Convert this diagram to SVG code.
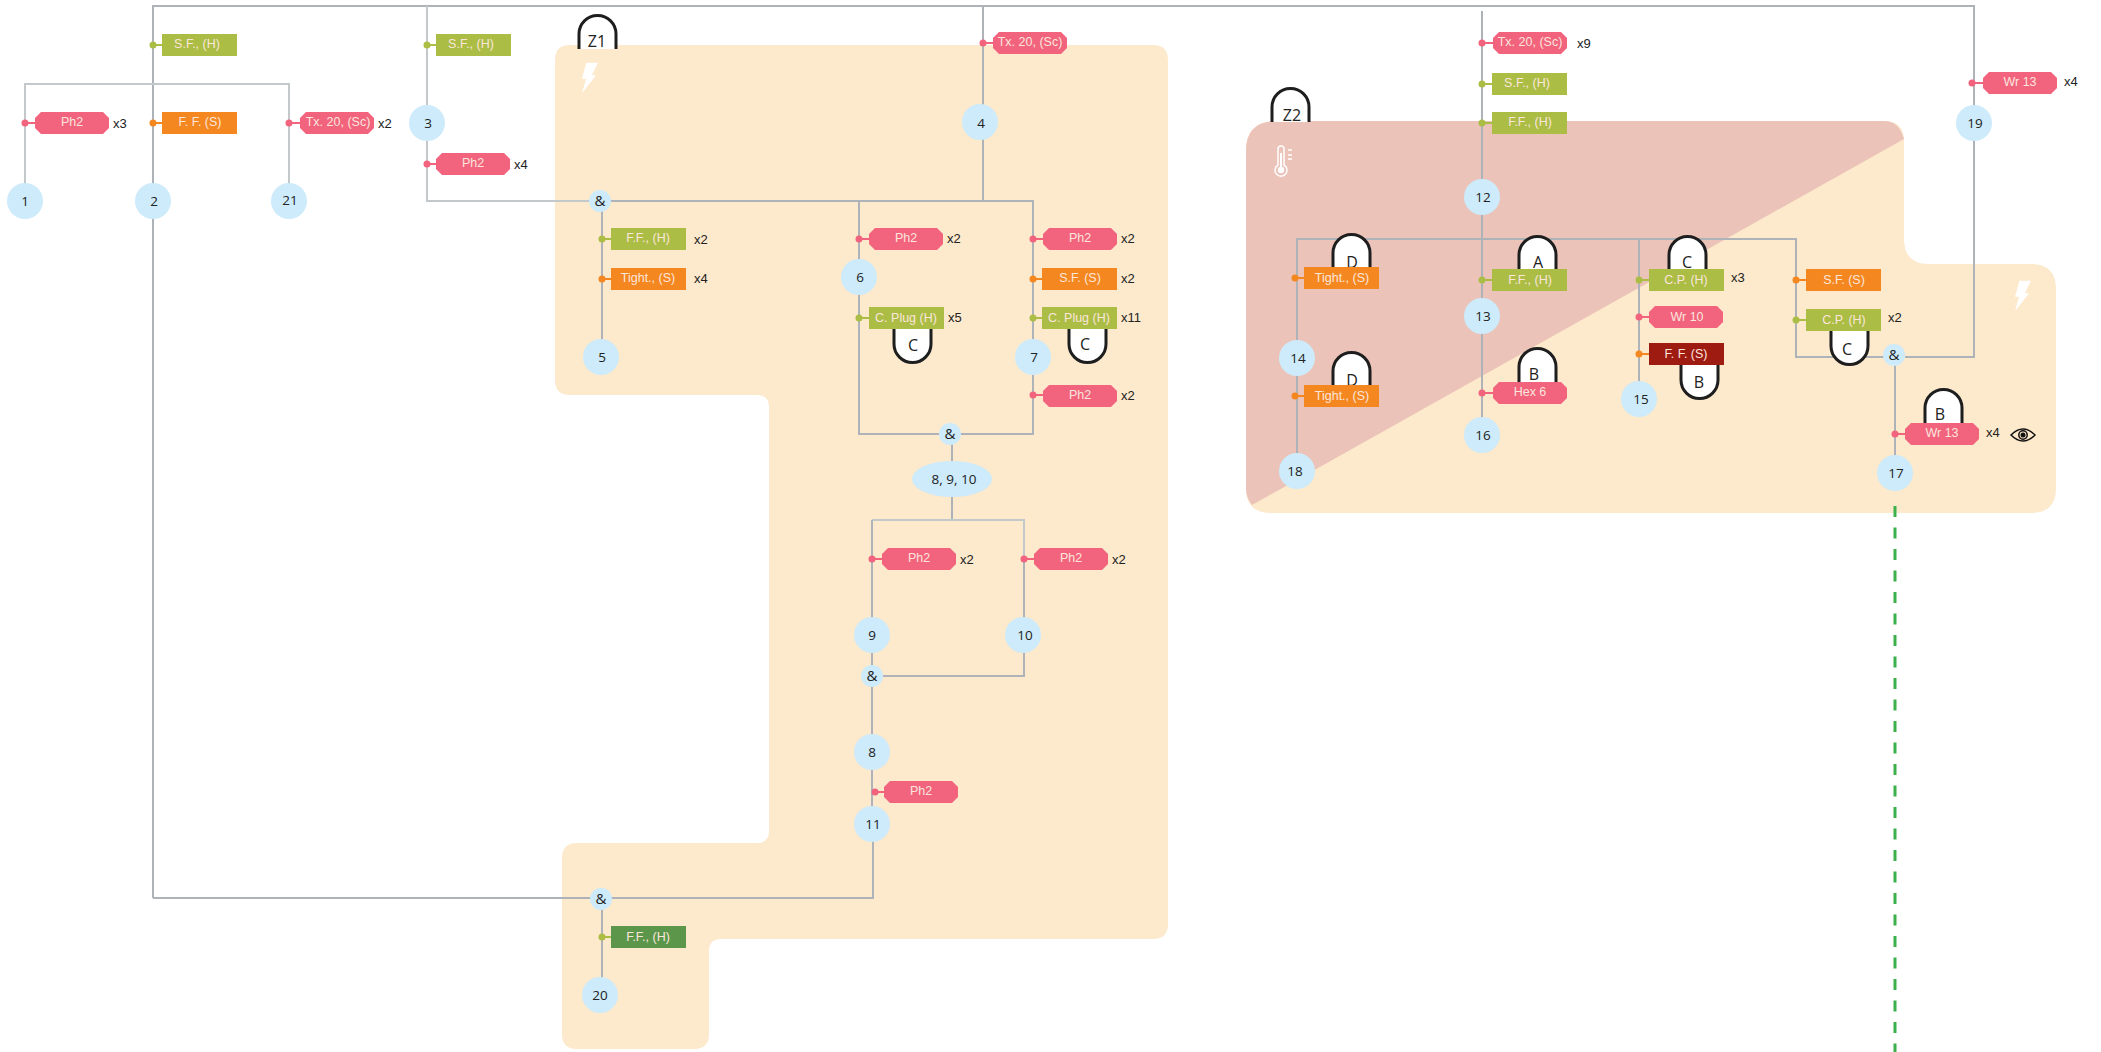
<svg xmlns="http://www.w3.org/2000/svg" width="2101" height="1052" viewBox="0 0 2101 1052">
<style>
.ln{fill:none;stroke:#adb3b8;stroke-width:2}
.lt{fill:none;stroke:#c3c8cb;stroke-width:2}
.dash{fill:none;stroke:#3cb04a;stroke-width:3;stroke-dasharray:11 10.5}
.arch{fill:#fff;stroke:#1e1e1e;stroke-width:3}
.n{fill:#cdebfa}
.nt{font:13.5px "Open Sans",sans-serif;fill:#222;text-anchor:middle}
.am{font:15px "Open Sans",sans-serif;fill:#222;text-anchor:middle}
.at{font:16px "Open Sans",sans-serif;fill:#222;text-anchor:middle}
.tl{font:12.5px "Liberation Sans",sans-serif;fill:#fbe6dc;text-anchor:middle}
.ct{font:13px "Liberation Sans",sans-serif;fill:#222}
.pk{fill:#f2637e;stroke:#f2637e}
.gr{fill:#abbd45;stroke:#abbd45}
.or{fill:#f58720;stroke:#f58720}
.s{stroke-width:2;fill:none}
.d{stroke:none}
.rg{fill:#abbd45}.ro{fill:#f58720}.rr{fill:#9e1b12}.rd{fill:#5c964a}
</style>
<defs>
<polygon id="oct" points="6,0 68,0 74,6 74,16 68,22 6,22 0,16 0,6" fill="#f2637e"/>
<rect id="box" width="75" height="22"/>
<path id="au" d="M0 0V-15A18.500 18.500 0 0 1 37 -15V0"/>
<path id="ad" d="M0 0V15A18.500 18.500 0 0 0 37 15V0"/>
<polygon id="bolt" points="2019.300,280.700 2031,280.700 2025,293 2029,293.500 2015,311 2019,297 2015,296.700" fill="#fff"/>
</defs>

<g id="regions">
<path id="zone1" fill="#fde9cc" d="M570 45H1153Q1168 45 1168 60V924Q1168 939 1153 939H721Q709 939 709 951V1034Q709 1049 694 1049H577Q562 1049 562 1034V858Q562 843 577 843H757Q769 843 769 831V407Q769 395 757 395H570Q555 395 555 380V60Q555 45 570 45Z"/>
<path id="zone2" fill="#fde9cc" d="M1276 121H1884Q1904 121 1904 141V239Q1904 264 1929 264H2031Q2056 264 2056 289V488Q2056 513 2031 513H1271Q1246 513 1246 488V151Q1246 121 1276 121Z"/>
<path id="zone2hot" fill="#ebc3b8" d="M1276 121H1884Q1899 121 1904 139L1252 505Q1246 498 1246 488V151Q1246 121 1276 121Z"/>
<use href="#bolt" transform="translate(-1433 -218)"/>
<use href="#bolt"/>
<g id="thermo" fill="none" stroke="#fff" stroke-width="1.500">
<path d="M1278 165V149A3 3 0 0 1 1284 149V165A6 6 0 1 1 1278 165Z"/>
<path d="M1281 153V171" stroke-width="2"/>
<circle cx="1281" cy="170" r="2.500" fill="#fff"/>
<path d="M1288 150H1292M1288 155H1292M1288 159H1292"/>
</g>
</g>

<g id="connectors">
<path class="ln" d="M153 898V6H1974V357H1905"/>
<path class="lt" d="M427 6V201H600"/>
<path class="lt" d="M25 201V84H289V201"/>
<path class="ln" d="M600 201H1033V434H859V201"/>
<path class="ln" d="M983 6V201"/>
<path class="ln" d="M952 434V520"/>
<path class="lt" d="M872 520H1024V559"/>
<path class="ln" d="M1024 559V676H872"/>
<path class="ln" d="M872 520V824"/>
<path class="ln" d="M873 824V898H153"/>
<path class="ln" d="M602 201V357"/>
<path class="ln" d="M602 898V995"/>
<path class="ln" d="M1482 11V435"/>
<path class="ln" d="M1297 471V239H1796V357H1895"/>
<path class="ln" d="M1639 239V399"/>
<path class="ln" d="M1895 355V473"/>
<path class="dash" d="M1895 506V1052"/>
</g>

<g id="arches">
<g id="zZ1"><use class="arch" href="#au" x="579" y="49"/><text class="at" x="597" y="47">Z1</text></g>
<g id="zZ2"><use class="arch" href="#au" x="1272" y="122"/><text class="at" x="1292" y="121">Z2</text></g>
<g id="aD1"><use class="arch" href="#au" x="1333" y="268"/><text class="at" x="1352" y="268">D</text></g>
<g id="aA"><use class="arch" href="#au" x="1519" y="270"/><text class="at" x="1538" y="268">A</text></g>
<g id="aC1"><use class="arch" href="#au" x="1669" y="270"/><text class="at" x="1687" y="268">C</text></g>
<g id="aD2"><use class="arch" href="#au" x="1333" y="386"/><text class="at" x="1352" y="386">D</text></g>
<g id="aB1"><use class="arch" href="#au" x="1519" y="382"/><text class="at" x="1534" y="380">B</text></g>
<g id="aB2"><use class="arch" href="#au" x="1925" y="423"/><text class="at" x="1940" y="420">B</text></g>
<g id="aC2"><use class="arch" href="#ad" x="894" y="329"/><text class="at" x="913" y="351">C</text></g>
<g id="aC3"><use class="arch" href="#ad" x="1069" y="329"/><text class="at" x="1085" y="350">C</text></g>
<g id="aB3"><use class="arch" href="#ad" x="1681" y="365"/><text class="at" x="1699" y="388">B</text></g>
<g id="aC4"><use class="arch" href="#ad" x="1831" y="331"/><text class="at" x="1847" y="355">C</text></g>
</g>

<g id="tags">
<g id="t1"><path class="pk s" d="M25 123H35"/><circle class="pk d" cx="25" cy="123" r="3.500"/><use href="#oct" x="35" y="112"/><text class="tl" x="72" y="126">Ph2</text><text class="ct" x="113" y="128">x3</text></g>
<g id="t2"><path class="or s" d="M153 123H162"/><circle class="or d" cx="153" cy="123" r="3.500"/><use class="ro" href="#box" x="162" y="112"/><text class="tl" x="200" y="126">F. F. (S)</text></g>
<g id="t3"><path class="gr s" d="M153 45H162"/><circle class="gr d" cx="153" cy="45" r="3.500"/><use class="rg" href="#box" x="162" y="34"/><text class="tl" x="197" y="48">S.F., (H)</text></g>
<g id="t4"><path class="pk s" d="M289 123H300"/><circle class="pk d" cx="289" cy="123" r="3.500"/><use href="#oct" x="300" y="112"/><text class="tl" x="338" y="126">Tx. 20, (Sc)</text><text class="ct" x="378" y="128">x2</text></g>
<g id="t5"><path class="gr s" d="M427 45H436"/><circle class="gr d" cx="427" cy="45" r="3.500"/><use class="rg" href="#box" x="436" y="34"/><text class="tl" x="471" y="48">S.F., (H)</text></g>
<g id="t6"><path class="pk s" d="M427 164H436"/><circle class="pk d" cx="427" cy="164" r="3.500"/><use href="#oct" x="436" y="153"/><text class="tl" x="473" y="167">Ph2</text><text class="ct" x="514" y="169">x4</text></g>
<g id="t7"><path class="gr s" d="M602 239H611"/><circle class="gr d" cx="602" cy="239" r="3.500"/><use class="rg" href="#box" x="611" y="228"/><text class="tl" x="648" y="242">F.F., (H)</text><text class="ct" x="694" y="244">x2</text></g>
<g id="t8"><path class="or s" d="M602 279H611"/><circle class="or d" cx="602" cy="279" r="3.500"/><use class="ro" href="#box" x="611" y="268"/><text class="tl" x="648" y="282">Tight., (S)</text><text class="ct" x="694" y="283">x4</text></g>
<g id="t9"><path class="pk s" d="M983 43H993"/><circle class="pk d" cx="983" cy="43" r="3.500"/><use href="#oct" x="993" y="32"/><text class="tl" x="1030" y="46">Tx. 20, (Sc)</text></g>
<g id="t10"><path class="pk s" d="M859 239H869"/><circle class="pk d" cx="859" cy="239" r="3.500"/><use href="#oct" x="869" y="228"/><text class="tl" x="906" y="242">Ph2</text><text class="ct" x="947" y="243">x2</text></g>
<g id="t11"><path class="gr s" d="M859 318H869"/><circle class="gr d" cx="859" cy="318" r="3.500"/><use class="rg" href="#box" x="869" y="307"/><text class="tl" x="906" y="322">C. Plug (H)</text><text class="ct" x="948" y="322">x5</text></g>
<g id="t12"><path class="pk s" d="M1033 239H1043"/><circle class="pk d" cx="1033" cy="239" r="3.500"/><use href="#oct" x="1043" y="228"/><text class="tl" x="1080" y="242">Ph2</text><text class="ct" x="1121" y="243">x2</text></g>
<g id="t13"><path class="or s" d="M1033 279H1042"/><circle class="or d" cx="1033" cy="279" r="3.500"/><use class="ro" href="#box" x="1042" y="268"/><text class="tl" x="1080" y="282">S.F. (S)</text><text class="ct" x="1121" y="283">x2</text></g>
<g id="t14"><path class="gr s" d="M1033 318H1042"/><circle class="gr d" cx="1033" cy="318" r="3.500"/><use class="rg" href="#box" x="1042" y="307"/><text class="tl" x="1079" y="322">C. Plug (H)</text><text class="ct" x="1121" y="322">x11</text></g>
<g id="t15"><path class="pk s" d="M1033 395H1043"/><circle class="pk d" cx="1033" cy="395" r="3.500"/><use href="#oct" x="1043" y="385"/><text class="tl" x="1080" y="399">Ph2</text><text class="ct" x="1121" y="400">x2</text></g>
<g id="t16"><path class="pk s" d="M872 559H882"/><circle class="pk d" cx="872" cy="559" r="3.500"/><use href="#oct" x="882" y="548"/><text class="tl" x="919" y="562">Ph2</text><text class="ct" x="960" y="564">x2</text></g>
<g id="t17"><path class="pk s" d="M1024 559H1034"/><circle class="pk d" cx="1024" cy="559" r="3.500"/><use href="#oct" x="1034" y="548"/><text class="tl" x="1071" y="562">Ph2</text><text class="ct" x="1112" y="564">x2</text></g>
<g id="t18"><path class="pk s" d="M875 792H884"/><circle class="pk d" cx="875" cy="792" r="3.500"/><use href="#oct" x="884" y="781"/><text class="tl" x="921" y="795">Ph2</text></g>
<g id="t19"><path class="gr s" d="M602 937H611"/><circle class="gr d" cx="602" cy="937" r="3.500"/><use class="rd" href="#box" x="611" y="926"/><text class="tl" x="648" y="941">F.F., (H)</text></g>
<g id="t20"><path class="pk s" d="M1482 43H1493"/><circle class="pk d" cx="1482" cy="43" r="3.500"/><use href="#oct" x="1493" y="32"/><text class="tl" x="1530" y="46">Tx. 20, (Sc)</text><text class="ct" x="1577" y="48">x9</text></g>
<g id="t21"><path class="gr s" d="M1482 84H1492"/><circle class="gr d" cx="1482" cy="84" r="3.500"/><use class="rg" href="#box" x="1492" y="73"/><text class="tl" x="1527" y="87">S.F., (H)</text></g>
<g id="t22"><path class="gr s" d="M1482 123H1492"/><circle class="gr d" cx="1482" cy="123" r="3.500"/><use class="rg" href="#box" x="1492" y="112"/><text class="tl" x="1530" y="126">F.F., (H)</text></g>
<g id="t23"><path class="gr s" d="M1482 280H1492"/><circle class="gr d" cx="1482" cy="280" r="3.500"/><use class="rg" href="#box" x="1492" y="269"/><text class="tl" x="1530" y="284">F.F., (H)</text></g>
<g id="t24"><path class="pk s" d="M1482 393H1493"/><circle class="pk d" cx="1482" cy="393" r="3.500"/><use href="#oct" x="1493" y="382"/><text class="tl" x="1530" y="396">Hex 6</text></g>
<g id="t25"><path class="or s" d="M1295 278H1304"/><circle class="or d" cx="1295" cy="278" r="3.500"/><use class="ro" href="#box" x="1304" y="267"/><text class="tl" x="1342" y="282">Tight., (S)</text></g>
<g id="t26"><path class="or s" d="M1295 396H1304"/><circle class="or d" cx="1295" cy="396" r="3.500"/><use class="ro" href="#box" x="1304" y="385"/><text class="tl" x="1342" y="400">Tight., (S)</text></g>
<g id="t27"><path class="gr s" d="M1639 280H1649"/><circle class="gr d" cx="1639" cy="280" r="3.500"/><use class="rg" href="#box" x="1649" y="269"/><text class="tl" x="1686" y="284">C.P. (H)</text><text class="ct" x="1731" y="282">x3</text></g>
<g id="t28"><path class="pk s" d="M1639 317H1649"/><circle class="pk d" cx="1639" cy="317" r="3.500"/><use href="#oct" x="1649" y="306"/><text class="tl" x="1687" y="321">Wr 10</text></g>
<g id="t29"><path class="or s" d="M1639 354H1649"/><circle class="or d" cx="1639" cy="354" r="3.500"/><use class="rr" href="#box" x="1649" y="343"/><text class="tl" x="1686" y="358">F. F. (S)</text></g>
<g id="t30"><path class="or s" d="M1796 280H1806"/><circle class="or d" cx="1796" cy="280" r="3.500"/><use class="ro" href="#box" x="1806" y="269"/><text class="tl" x="1844" y="284">S.F. (S)</text></g>
<g id="t31"><path class="gr s" d="M1796 320H1806"/><circle class="gr d" cx="1796" cy="320" r="3.500"/><use class="rg" href="#box" x="1806" y="309"/><text class="tl" x="1844" y="324">C.P. (H)</text><text class="ct" x="1888" y="322">x2</text></g>
<g id="t32"><path class="pk s" d="M1895 434H1905"/><circle class="pk d" cx="1895" cy="434" r="3.500"/><use href="#oct" x="1905" y="423"/><text class="tl" x="1942" y="437">Wr 13</text><text class="ct" x="1986" y="437">x4</text></g>
<g id="t33"><path class="pk s" d="M1972 83H1983"/><circle class="pk d" cx="1972" cy="83" r="3.500"/><use href="#oct" x="1983" y="72"/><text class="tl" x="2020" y="86">Wr 13</text><text class="ct" x="2064" y="86">x4</text></g>
<g id="eye" fill="none" stroke="#111" stroke-width="1.500"><path d="M2011 435Q2023 423 2035 435Q2023 447 2011 435Z"/><circle cx="2023" cy="435" r="4.200"/><circle cx="2023" cy="435" r="2.500" fill="#111" stroke="none"/></g>
</g>

<g id="nodes">
<g id="n1"><ellipse class="n" cx="25" cy="201" rx="18" ry="18"/><text class="nt" x="25" y="206">1</text></g>
<g id="n2"><ellipse class="n" cx="153" cy="201" rx="18" ry="18"/><text class="nt" x="154" y="206">2</text></g>
<g id="n21"><ellipse class="n" cx="289" cy="201" rx="18" ry="18"/><text class="nt" x="290" y="205">21</text></g>
<g id="n3"><ellipse class="n" cx="427" cy="123" rx="18" ry="18"/><text class="nt" x="428" y="128">3</text></g>
<g id="n4"><ellipse class="n" cx="980" cy="122" rx="18" ry="18"/><text class="nt" x="981" y="128">4</text></g>
<g id="n5"><ellipse class="n" cx="601" cy="357" rx="18" ry="18"/><text class="nt" x="602" y="362">5</text></g>
<g id="n6"><ellipse class="n" cx="859" cy="277" rx="18" ry="18"/><text class="nt" x="860" y="282">6</text></g>
<g id="n7"><ellipse class="n" cx="1033" cy="357" rx="18" ry="18"/><text class="nt" x="1034" y="362">7</text></g>
<g id="n8"><ellipse class="n" cx="872" cy="752" rx="18" ry="18"/><text class="nt" x="872" y="757">8</text></g>
<g id="n9"><ellipse class="n" cx="872" cy="635" rx="18" ry="18"/><text class="nt" x="872" y="640">9</text></g>
<g id="n10"><ellipse class="n" cx="1023" cy="635" rx="18" ry="18"/><text class="nt" x="1025" y="640">10</text></g>
<g id="n11"><ellipse class="n" cx="872" cy="824" rx="18" ry="18"/><text class="nt" x="873" y="829">11</text></g>
<g id="n12"><ellipse class="n" cx="1482" cy="197" rx="18" ry="18"/><text class="nt" x="1483" y="202">12</text></g>
<g id="n13"><ellipse class="n" cx="1482" cy="316" rx="18" ry="18"/><text class="nt" x="1483" y="321">13</text></g>
<g id="n14"><ellipse class="n" cx="1297" cy="358" rx="18" ry="18"/><text class="nt" x="1298" y="363">14</text></g>
<g id="n15"><ellipse class="n" cx="1639" cy="399" rx="18" ry="18"/><text class="nt" x="1641" y="404">15</text></g>
<g id="n16"><ellipse class="n" cx="1482" cy="435" rx="18" ry="18"/><text class="nt" x="1483" y="440">16</text></g>
<g id="n17"><ellipse class="n" cx="1895" cy="473" rx="18" ry="18"/><text class="nt" x="1896" y="478">17</text></g>
<g id="n18"><ellipse class="n" cx="1297" cy="471" rx="18" ry="18"/><text class="nt" x="1295" y="476">18</text></g>
<g id="n19"><ellipse class="n" cx="1974" cy="123" rx="18" ry="18"/><text class="nt" x="1975" y="128">19</text></g>
<g id="n20"><ellipse class="n" cx="600" cy="995" rx="18" ry="18"/><text class="nt" x="600" y="1000">20</text></g>
<g id="and1"><circle class="n" cx="600" cy="201" r="11"/><text class="am" x="600" y="206">&amp;</text></g>
<g id="and2"><circle class="n" cx="950" cy="434" r="11"/><text class="am" x="950" y="439">&amp;</text></g>
<g id="and3"><circle class="n" cx="872" cy="676" r="11"/><text class="am" x="872" y="681">&amp;</text></g>
<g id="and4"><circle class="n" cx="601" cy="899" r="11"/><text class="am" x="601" y="904">&amp;</text></g>
<g id="and5"><circle class="n" cx="1894" cy="355" r="11"/><text class="am" x="1894" y="360">&amp;</text></g>
<g id="n8910"><ellipse class="n" cx="952" cy="479" rx="40" ry="18"/><text class="nt" x="954" y="484">8, 9, 10</text></g>
</g>
</svg>
